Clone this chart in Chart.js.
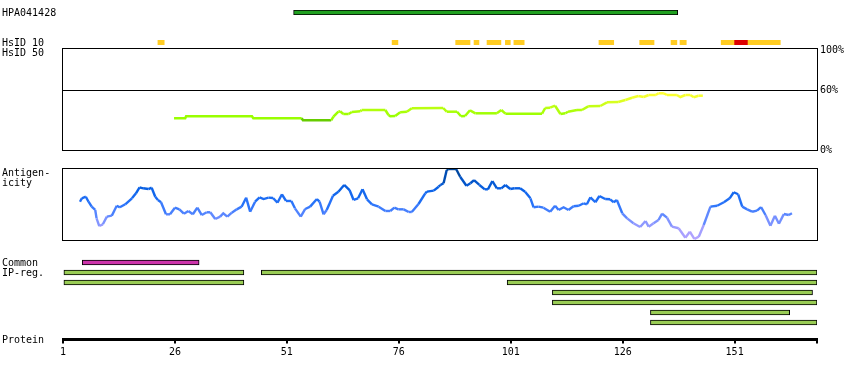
<!DOCTYPE html>
<html><head><meta charset="utf-8">
<script src="https://cdn.jsdelivr.net/npm/chart.js@4.4.1/dist/chart.umd.min.js"></script>
<style>
html,body{margin:0;padding:0;background:#fff;}
#wrap{position:relative;width:850px;height:380px;overflow:hidden;font-family:'DejaVu Sans Mono',monospace;font-size:10px;color:#000;}
#wrap canvas{position:absolute;left:0;top:0;}
.lbl{position:absolute;left:2px;line-height:10px;white-space:pre;}
</style></head><body>
<div id="wrap">
<canvas id="cHpa" width="850" height="380"></canvas>
<canvas id="cHsid" width="850" height="380"></canvas>
<canvas id="cIdent" width="850" height="380"></canvas>
<canvas id="cAnti" width="850" height="380"></canvas>
<canvas id="cReg" width="850" height="380"></canvas>
<canvas id="cAxis" width="850" height="380"></canvas>
<div class="lbl" style="top:8px">HPA041428</div>
<div class="lbl" style="top:38px">HsID 10</div>
<div class="lbl" style="top:48px">HsID 50</div>
<div class="lbl" style="top:168px">Antigen-</div>
<div class="lbl" style="top:178px">icity</div>
<div class="lbl" style="top:258px">Common</div>
<div class="lbl" style="top:268px">IP-reg.</div>
<div class="lbl" style="top:335px">Protein</div>
</div>
<script>
// ---------------- data ----------------
const residueMin = 1;
const residueMax = 169.4;
const axisTickValues = [1, 26, 51, 76, 101, 126, 151, 169.4];
const axisTickLabels = ['1', '26', '51', '76', '101', '126', '151', ''];

const antigenNames = ['HPA041428'];
const antigenStart = [52.5];
const antigenEnd = [138.3];

const hsid10Start = [22.2, 74.5, 88.7, 92.8, 95.7, 99.8, 101.7, 120.7, 129.8, 136.8, 138.8, 148.0, 151.0, 154.0];
const hsid10End   = [23.6, 75.8, 91.9, 93.9, 98.8, 100.9, 104.0, 124.0, 133.0, 138.1, 140.2, 151.0, 154.0, 161.2];
const hsid10Level = ['mid','mid','mid','mid','mid','mid','mid','mid','mid','mid','mid','mid','high','mid'];

const identityResidue = [25.8,28.3,28.5,43.2,43.5,54.3,54.6,60.9,61.4,62.5,62.9,63.6,64.8,65.5,67.4,67.7,73.0,73.7,74.1,75.2,76.3,77.8,78.9,85.9,86.7,89.0,89.9,90.8,91.9,93.1,97.9,98.9,99.8,108.0,108.7,109.8,110.9,112.1,113.2,113.8,115.8,116.9,118.3,121.0,122.5,125.0,126.6,128.1,129.5,130.7,131.8,133.4,134.0,135.2,135.9,138.1,138.9,140.0,141.1,141.9,142.9,143.9];
const identityPercent = [31.7,31.7,33.7,33.7,31.7,31.7,29.7,29.7,33.3,38.3,38.7,36,36,38,38.7,40,40,35,33.7,34,37.7,38.3,41.7,42,38.3,38.3,33.7,34,39.7,36.7,36.7,40,36.3,36.3,42,42.3,44.3,36,36.7,38.3,40,40,43.7,44,47.7,48,50,52.3,54,53,55,55,56.7,56.7,55,55,53,55,55,52.7,54.3,54.3];
const identityTicks = [0, 60, 100];
const identityTickLabels = ['0%', '60%', '100%'];

const antigenicityResidue = [4.8,5.2,6.1,6.7,7.4,8.2,8.5,9.1,9.9,10.8,11.9,13.0,13.7,14.9,16.4,17.3,18.1,18.9,20.1,20.8,21.6,22.2,22.9,24.0,24.9,26.0,27.0,28.0,29.0,30.0,31.0,32.0,33.1,33.9,35.0,36.1,36.8,37.7,38.7,39.8,40.9,41.9,42.8,43.9,44.9,45.8,46.9,47.9,48.9,49.9,50.8,52.0,52.8,54.1,55.1,56.2,57.7,58.3,59.2,59.9,61.3,62.5,63.8,65.0,65.9,66.9,67.9,68.9,70.0,71.5,73.0,74.1,75.0,75.9,77.1,78.2,78.9,80.4,81.9,82.3,83.8,84.9,85.3,86.0,86.7,87.1,88.8,89.7,91.1,92.0,92.8,94.0,95.2,95.9,96.9,97.9,98.9,99.8,100.9,101.8,103.1,104.2,105.4,106.1,107.2,108.3,109.8,110.9,111.7,112.8,113.9,115.0,116.2,117.3,118.0,118.8,119.9,120.8,122.1,123.2,124.0,124.7,125.9,127.0,128.4,129.9,131.1,131.8,132.9,134.0,134.8,135.9,137.0,138.5,140.0,141.0,142.0,143.0,144.1,145.6,147.1,148.6,149.9,150.8,151.8,152.7,153.8,154.9,156.0,156.9,157.9,159.0,160.0,160.9,162.0,163.1,163.8];
const antigenicityScore = [53.2,57.9,60.1,53.2,46.3,41.7,30.1,19.4,21.8,32.4,33.8,47.6,45.4,49.6,57.9,64.9,73.2,71.8,70.8,72.6,60.1,55.6,52.4,35.7,35.7,44.9,42.6,36.5,40.3,35.7,44.9,34.7,38.5,38.5,29.2,32.4,37.1,32.4,37.9,42.6,46.3,58.8,39.3,53.2,59.3,56.9,58.8,58.3,51.8,63.5,54.2,54.2,44.0,32.4,43.1,46.3,56.9,53.2,35.7,41.7,61.5,67.1,76.4,69.4,55.6,57.9,70.4,56.5,49.6,46.3,40.3,40.3,44.9,42.6,42.6,38.9,38.9,50.0,64.9,67.1,68.5,74.0,76.4,78.8,97.2,98.6,98.6,87.9,75.4,78.8,83.3,76.4,70.4,70.4,81.9,71.8,71.8,76.4,70.8,71.8,71.8,67.1,57.9,45.4,46.3,44.9,39.3,47.6,41.7,45.4,41.7,46.8,47.6,51.0,49.6,59.3,52.4,61.1,56.9,56.5,52.4,55.6,37.1,30.1,23.2,18.1,26.4,18.5,23.2,27.8,36.5,31.0,18.5,16.3,3.2,11.5,1.4,4.6,20.8,46.3,47.6,52.4,57.9,66.3,63.5,46.3,42.6,39.3,40.7,45.8,34.7,19.9,33.8,22.6,36.1,34.7,37.1];

const regionRows  = ['Common', 'IP-reg. 1', 'IP-reg. 2', 'IP-reg. 3', 'IP-reg. 4', 'IP-reg. 5', 'IP-reg. 6'];
const regionType  = ['common', 'ip', 'ip', 'ip', 'ip', 'ip', 'ip'];
const regionStartA = [5.3, 1.2, 1.2, 110.3, 110.3, 132.2, 132.2];
const regionEndA   = [31.4, 41.4, 41.4, 168.4, 169.4, 163.3, 169.4];
const regionStartB = [null, 45.3, 100.2, null, null, null, null];
const regionEndB   = [null, 169.4, 169.4, null, null, null, null];

// ---------------- styling ----------------
Chart.defaults.font.family = "'DejaVu Sans Mono', monospace";
Chart.defaults.font.size = 10;
Chart.defaults.color = '#000';

const W = 850, H = 380, LEFT = 63, RIGHT = 33;

function lerp(a, b, t) { return a + (b - a) * t; }
function rgbStops(stops, v) {
  if (v <= stops[0][0]) return stops[0][1];
  for (let i = 1; i < stops.length; i++) {
    if (v <= stops[i][0]) {
      const t = (v - stops[i-1][0]) / (stops[i][0] - stops[i-1][0]);
      return stops[i-1][1].map((c, k) => Math.round(lerp(c, stops[i][1][k], t)));
    }
  }
  return stops[stops.length - 1][1];
}
function identityColor(v) {
  if (v < 31) return '#66cc00';
  const c = rgbStops([[35, [153,255,0]], [56, [255,255,51]]], v);
  return `rgb(${c[0]},${c[1]},${c[2]})`;
}
function antigenicityColor(v) {
  const c = rgbStops([[0,[185,165,255]],[20,[150,155,255]],[35,[90,135,255]],[50,[40,115,250]],[70,[10,98,232]],[85,[0,80,190]],[100,[0,65,140]]], v);
  return `rgb(${c[0]},${c[1]},${c[2]})`;
}

const framePlugin = {
  id: 'frame',
  afterDraw(chart, args, opts) {
    if (!opts || !opts.show) return;
    const a = chart.chartArea, ctx = chart.ctx, extra = opts.extraTop || 0;
    ctx.save();
    ctx.strokeStyle = '#000';
    ctx.lineWidth = 1;
    ctx.strokeRect(a.left - 0.5, a.top - extra + 0.5, a.right - a.left + 1, a.bottom - a.top + extra);
    ctx.restore();
  }
};

function baseOptions(top, bottom, extra) {
  return Object.assign({
    responsive: false, animation: false, devicePixelRatio: 1,
    layout: { padding: { left: LEFT, right: RIGHT, top: top, bottom: H - bottom } },
    plugins: { legend: { display: false }, tooltip: { enabled: false } },
    events: []
  }, extra || {});
}
const hiddenX = { type: 'linear', min: residueMin, max: residueMax, display: false };

// HPA antigen row
new Chart(document.getElementById('cHpa'), {
  type: 'bar',
  data: { labels: antigenNames,
    datasets: [{ data: antigenNames.map((n, i) => [antigenStart[i], antigenEnd[i]]),
      backgroundColor: '#20a020', borderColor: '#000', borderWidth: 1, borderSkipped: false, barThickness: 5 }] },
  options: baseOptions(10, 15, { indexAxis: 'y', scales: { x: hiddenX, y: { display: false } } })
});

// HsID 10 blocks
new Chart(document.getElementById('cHsid'), {
  type: 'bar',
  data: { labels: ['HsID 10'],
    datasets: [{ data: hsid10Start.map((s, i) => ({ x: [s, hsid10End[i]], y: 'HsID 10' })),
      backgroundColor: c => hsid10Level[c.dataIndex] === 'high' ? '#dd0000' : '#ffcc22',
      borderWidth: 0, barThickness: 5 }] },
  options: baseOptions(40, 45, { indexAxis: 'y', scales: { x: hiddenX, y: { display: false } } })
});

// Identity (HsID 50) line
const identOpts = baseOptions(50, 150, {
  scales: {
    x: hiddenX,
    y: { position: 'right', min: 0, max: 100,
      afterBuildTicks: s => { s.ticks = identityTicks.map(v => ({ value: v })); },
      afterFit: s => { s.width = RIGHT; },
      ticks: { padding: 3, color: '#000', callback: v => identityTickLabels[identityTicks.indexOf(v)] },
      grid: { drawTicks: false, lineWidth: 1, color: c => (c.tick && c.tick.value === 60) ? '#000' : 'rgba(0,0,0,0)' },
      border: { display: false } }
  }
});
identOpts.layout.padding.right = 0;
identOpts.plugins.frame = { show: true, extraTop: 2 };
new Chart(document.getElementById('cIdent'), {
  type: 'line',
  data: { datasets: [{ data: identityResidue.map((r, i) => ({ x: r, y: identityPercent[i] })),
    borderColor: '#99ff00', borderWidth: 2.5, pointRadius: 0, tension: 0,
    segment: { borderColor: c => identityColor((c.p0.parsed.y + c.p1.parsed.y) / 2) } }] },
  options: identOpts,
  plugins: [framePlugin]
});

// Antigenicity line
const antiOpts = baseOptions(168, 240, { scales: { x: hiddenX, y: { min: 0, max: 100, display: false } } });
antiOpts.plugins.frame = { show: true, extraTop: 0 };
new Chart(document.getElementById('cAnti'), {
  type: 'line',
  data: { datasets: [{ data: antigenicityResidue.map((r, i) => ({ x: r, y: antigenicityScore[i] })),
    borderColor: '#1a6fff', borderWidth: 2.4, pointRadius: 0, tension: 0,
    segment: { borderColor: c => antigenicityColor((c.p0.parsed.y + c.p1.parsed.y) / 2) } }] },
  options: antiOpts,
  plugins: [framePlugin]
});

// Common / IP-reg regions
const regionFill = c => regionType[c.dataIndex] === 'common' ? '#cc33aa' : '#99cc55';
new Chart(document.getElementById('cReg'), {
  type: 'bar',
  data: { labels: regionRows, datasets: [
    { data: regionStartA.map((s, i) => s == null ? null : [s, regionEndA[i]]),
      backgroundColor: regionFill, borderColor: '#000', borderWidth: 1, borderSkipped: false, barThickness: 5, grouped: false },
    { data: regionStartB.map((s, i) => s == null ? null : [s, regionEndB[i]]),
      backgroundColor: regionFill, borderColor: '#000', borderWidth: 1, borderSkipped: false, barThickness: 5, grouped: false }
  ] },
  options: baseOptions(257.5, 327.5, { indexAxis: 'y', scales: { x: hiddenX, y: { display: false } } })
});

// Protein axis
const axisOpts = baseOptions(300, 339.5, {
  scales: {
    x: { type: 'linear', position: 'bottom', min: residueMin, max: residueMax,
      afterBuildTicks: s => { s.ticks = axisTickValues.map(v => ({ value: v })); },
      afterFit: s => { s.height = 30; },
      ticks: { autoSkip: false, maxRotation: 0, padding: 3, color: '#000',
        callback: v => axisTickLabels[axisTickValues.indexOf(v)] },
      grid: { display: true, drawOnChartArea: false, drawTicks: true, tickLength: 4, color: '#000', lineWidth: 2 },
      border: { display: true, width: 3, color: '#000' } },
    y: { display: false }
  }
});
axisOpts.layout.padding.bottom = H - 339.5 - 30;
new Chart(document.getElementById('cAxis'), {
  type: 'line',
  data: { datasets: [] },
  options: axisOpts
});
</script>
</body></html>
